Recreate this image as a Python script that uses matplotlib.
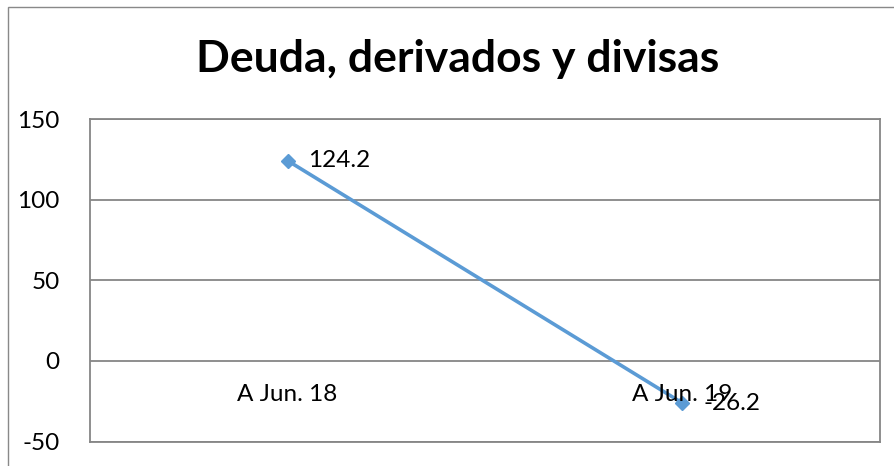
import matplotlib
matplotlib.use('Agg')
import matplotlib.pyplot as plt
from matplotlib.patches import Rectangle
from matplotlib.transforms import offset_copy

categories = ['A Jun. 18', 'A Jun. 19']
values = [124.2, -26.2]
labels = ['124.2', '-26.2']
yticks = [-50, 0, 50, 100, 150]
title = 'Deuda, derivados y divisas'

plt.rcParams['font.family'] = ['Lato', 'DejaVu Sans']
plt.rcParams['axes.unicode_minus'] = False

fig = plt.figure(figsize=(8.95, 4.66), dpi=100)
# outer chart border (runs past the right/bottom edge in the reference)
fig.patches.append(Rectangle((8 / 895, -0.05), 1.0, (466 - 7) / 466 + 0.05,
                             transform=fig.transFigure, fill=False,
                             edgecolor='#898989', linewidth=1.0))

ax = fig.add_axes([90 / 895, (466 - 441.5) / 466, 790 / 895, 322.5 / 466])
xs = [0.5, 1.5]
ax.plot(xs, values, color='#5B9BD5', linewidth=2.6, marker='D',
        markersize=7.5, zorder=3, clip_on=False)

ax.set_xlim(0, 2)
ax.set_ylim(-50, 150)
ax.set_yticks(yticks)
ax.yaxis.grid(True, color='#868686', linewidth=1.3)
ax.set_axisbelow(True)
ax.tick_params(axis='y', length=0, pad=22, labelsize=17.5)
ax.set_xticks([])
for s in ax.spines.values():
    s.set_color('#868686')
    s.set_linewidth(1.3)

for x, v, lab in zip(xs, values, labels):
    ax.text(x, v, lab, transform=offset_copy(ax.transData, fig, x=21, y=0, units='dots'),
            ha='left', va='center', fontsize=17.5)

for x, c in zip(xs, categories):
    ax.text(x, 0, c, transform=offset_copy(ax.transData, fig, x=0, y=-34, units='dots'),
            ha='center', va='center', fontsize=17.5)

fig.text(458 / 895, (466 - 59) / 466, title, ha='center', va='center',
         fontsize=32, fontweight='bold')

fig.savefig('out.png', dpi=100)
